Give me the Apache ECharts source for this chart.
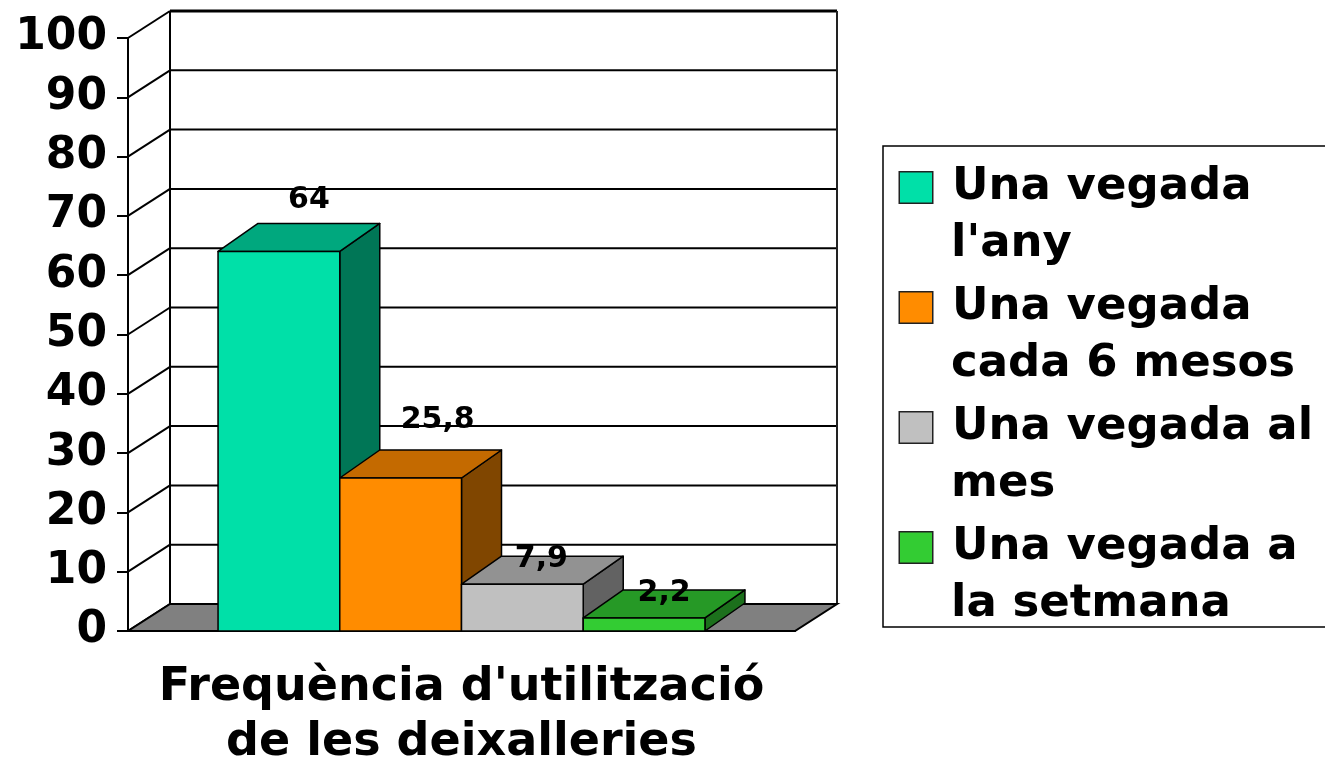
<!DOCTYPE html>
<html>
<head>
<meta charset="utf-8">
<script src="https://cdn.jsdelivr.net/npm/echarts@6/dist/echarts.min.js"></script>
<style>
  html, body { margin: 0; padding: 0; background: #fff; }
  #chart { width: 1325px; height: 759px; }
</style>
</head>
<body>
<div id="chart"></div>
<script>
// dades del gràfic
var categories = ["Frequència d'utilització\nde les deixalleries"];
var seriesNames = ["Una vegada\nl'any", "Una vegada\ncada 6 mesos", "Una vegada al\nmes", "Una vegada a\nla setmana"];
var values = [64, 25.8, 7.9, 2.2];
var yTicks = [0, 10, 20, 30, 40, 50, 60, 70, 80, 90, 100];

var FONT = 'DejaVu Sans';
// colors de cada barra: cara frontal, tapa, lateral
var palette = [
  { front: '#00E0A8', top: '#00A87E', side: '#007656', nudge: [30, -51] },
  { front: '#FF8C00', top: '#C46A00', side: '#804600', nudge: [37, -58] },
  { front: '#C0C0C0', top: '#929292', side: '#626262', nudge: [19, -25] },
  { front: '#33CC33', top: '#269926', side: '#1C701C', nudge: [20, -25] }
];
var WALL_DEPTH = [42, -27];
var BAR_DEPTH = [40, -28];
var GROUP_RATIO = 0.73;

var chart = echarts.init(document.getElementById('chart'));

function renderWalls(params, api) {
  var cs = params.coordSys;
  var dx = WALL_DEPTH[0], dy = WALL_DEPTH[1];
  var left = cs.x, right = cs.x + cs.width, top = cs.y, bottom = cs.y + cs.height;
  var stroke = { stroke: '#000', lineWidth: 2 };
  var children = [];
  children.push({
    type: 'rect',
    shape: { x: left + dx, y: top + dy, width: cs.width, height: cs.height },
    style: { fill: '#fff' }
  });
  yTicks.forEach(function (t) {
    var y = api.coord([0, t])[1];
    children.push({
      type: 'line',
      shape: { x1: left + dx, y1: y + dy, x2: right + dx, y2: y + dy },
      style: { stroke: '#000', lineWidth: t === yTicks[yTicks.length - 1] ? 3 : 2 }
    });
    children.push({
      type: 'line',
      shape: { x1: left, y1: y, x2: left + dx, y2: y + dy },
      style: stroke
    });
  });
  children.push({
    type: 'line',
    shape: { x1: left + dx, y1: top + dy, x2: left + dx, y2: bottom + dy },
    style: stroke
  });
  children.push({
    type: 'line',
    shape: { x1: right + dx, y1: top + dy, x2: right + dx, y2: bottom + dy },
    style: { stroke: '#222', lineWidth: 2 }
  });
  children.push({
    type: 'polygon',
    shape: { points: [[left, bottom], [right, bottom], [right + dx, bottom + dy], [left + dx, bottom + dy]] },
    style: { fill: '#808080', stroke: '#000', lineWidth: 2 }
  });
  return { type: 'group', children: children };
}

function makeBarRenderer(i) {
  var p = palette[i];
  return function (params, api) {
    var v = api.value(1);
    var topPt = api.coord([0, v]);
    var basePt = api.coord([0, 0]);
    var band = api.size([1, 0])[0];
    var groupW = band * GROUP_RATIO;
    var w = groupW / values.length;
    var x0 = topPt[0] - groupW / 2 + i * w;
    var x1 = x0 + w;
    var yt = topPt[1], yb = basePt[1];
    var dx = BAR_DEPTH[0], dy = BAR_DEPTH[1];
    var edge = { stroke: '#000', lineWidth: 1.5, lineJoin: 'round' };
    return {
      type: 'group',
      children: [
        {
          type: 'polygon',
          shape: { points: [[x1, yb], [x1 + dx, yb + dy], [x1 + dx, yt + dy], [x1, yt]] },
          style: Object.assign({ fill: p.side }, edge)
        },
        {
          type: 'polygon',
          shape: { points: [[x0, yt], [x1, yt], [x1 + dx, yt + dy], [x0 + dx, yt + dy]] },
          style: Object.assign({ fill: p.top }, edge)
        },
        {
          type: 'rect',
          shape: { x: x0, y: yt, width: w, height: yb - yt },
          style: Object.assign({ fill: p.front }, edge)
        },
        {
          type: 'text',
          z2: 100,
          style: {
            x: (x0 + x1) / 2 + p.nudge[0],
            y: yt + p.nudge[1],
            text: String(v).replace('.', ','),
            fill: '#000',
            font: 'bold 30px "' + FONT + '"',
            align: 'center',
            verticalAlign: 'middle'
          }
        }
      ]
    };
  };
}

var richStyles = {
  t: { fontFamily: FONT, fontWeight: 'bold', fontSize: 45, lineHeight: 57, color: '#000' },
  gap: { width: 20 },
  pad: { width: 51 }
};
palette.forEach(function (p, i) {
  richStyles['sq' + i] = {
    width: 32, height: 30, backgroundColor: p.front,
    borderColor: '#222', borderWidth: 1.5, verticalAlign: 'middle'
  };
});

var series = [{
  name: 'walls',
  type: 'custom',
  z: 1,
  silent: true,
  renderItem: renderWalls,
  data: [[0, 0]]
}];
seriesNames.forEach(function (name, i) {
  series.push({
    name: name,
    type: 'custom',
    z: 3 + i,
    itemStyle: { color: palette[i].front },
    renderItem: makeBarRenderer(i),
    encode: { x: 0, y: 1 },
    data: [[0, values[i]]]
  });
});

chart.setOption({
  animation: false,
  grid: { left: 128, right: 530, top: 38, bottom: 128, outerBoundsMode: 'none', containLabel: false },
  xAxis: {
    type: 'category',
    data: categories,
    boundaryGap: true,
    axisLine: { lineStyle: { color: '#000', width: 2 } },
    axisTick: { length: 10, lineStyle: { color: '#000', width: 2 } },
    axisLabel: {
      interval: 0, color: '#000', fontFamily: FONT, fontWeight: 'bold',
      fontSize: 46, lineHeight: 55, margin: 30
    },
    splitLine: { show: false }
  },
  yAxis: {
    type: 'value',
    min: 0, max: 100, interval: 10,
    axisLine: { show: true, lineStyle: { color: '#000', width: 2 } },
    axisTick: { show: true, length: 11, lineStyle: { color: '#000', width: 2 } },
    axisLabel: {
      color: '#000', fontFamily: FONT, fontWeight: 'bold', fontSize: 44, margin: 21,
      padding: [9, 0, 0, 0]
    },
    splitLine: { show: false }
  },
  legend: {
    orient: 'vertical',
    left: 883, top: 146,
    data: seriesNames,
    selectedMode: false,
    itemWidth: 0, itemHeight: 0,
    itemStyle: { opacity: 0 },
    itemGap: 18,
    padding: [19, 400, 0, 12],
    borderColor: '#000', borderWidth: 1.5,
    textStyle: { rich: richStyles },
    formatter: function (name) {
      var i = seriesNames.indexOf(name);
      var lines = name.split('\n');
      return '{sq' + i + '|}{gap|}{t|' + lines[0] + '}\n{pad|}{t|' + lines[1] + '}';
    }
  },
  series: series
});
</script>
</body>
</html>
